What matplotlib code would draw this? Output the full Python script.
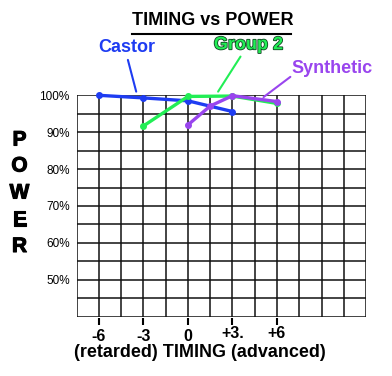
import matplotlib
matplotlib.use("Agg")
import matplotlib.pyplot as plt
from matplotlib.lines import Line2D
from matplotlib.transforms import ScaledTranslation
import matplotlib.patheffects as pe

plt.rcParams['font.family'] = ['Liberation Sans', 'DejaVu Sans']

timing_ticks = [-6, -3, 0, 3, 6]
timing_labels = ['-6', '-3', '0', '+3.', '+6']
power_ticks = [50, 60, 70, 80, 90, 100]
power_labels = ['50%', '60%', '70%', '80%', '90%', '100%']

castor_x = [-6, -3, 0, 3]
castor_y = [100, 99.3, 98.5, 95.6]
group2_x = [-3, 0, 3, 6]
group2_y = [91.7, 99.7, 99.8, 97.8]
synth_x = [0, 1.5, 3, 6]
synth_y = [92, 97.1, 99.9, 98.3]

c_blue = '#1e3cf2'
c_green = '#22ee55'
c_purple = '#9945ee'

fig = plt.figure(figsize=(3.92, 3.76), dpi=100)
ax = fig.add_axes([0.1957, 0.158, 0.738, 0.5885])
ax.set_xlim(-7.5, 12)
ax.set_ylim(40, 100)

# grid
for i in range(14):
    ax.axvline(-7.5 + 1.5 * i, color='#111111', lw=1.1, zorder=1)
for j in range(13):
    ax.axhline(40 + 5 * j, color='#111111', lw=1.1, zorder=1)
for s in ax.spines.values():
    s.set_visible(False)

lw = 2.4
ax.plot(castor_x, castor_y, color=c_blue, lw=lw, marker='o', ms=4, zorder=3, clip_on=False)
ax.plot(group2_x, group2_y, color=c_green, lw=lw, marker='o', ms=4, zorder=3, clip_on=False)
ax.plot(synth_x, synth_y, color=c_purple, lw=lw, marker='o', ms=4, zorder=4, clip_on=False)

ax.set_yticks(power_ticks)
ax.set_yticklabels(power_labels, fontsize=8.5)
ax.tick_params(axis='y', length=0, pad=5)

ax.set_xticks(timing_ticks)
ax.set_xticklabels(timing_labels, fontsize=11.5, fontweight='bold')
ax.tick_params(axis='x', length=0, pad=9)
for lab in ax.get_xticklabels()[3:]:
    lab.set_transform(lab.get_transform() + ScaledTranslation(0, 3 / 100, fig.dpi_scale_trans))
ax.vlines(timing_ticks, -0.008, -0.039, transform=ax.get_xaxis_transform(),
          color='black', lw=1.5, clip_on=False)

ax.text(0.426, -0.1605, '(retarded) TIMING (advanced)', transform=ax.transAxes,
        ha='center', va='center', fontsize=13, fontweight='bold')

# title
ax.text(0.471, 1.34, 'TIMING vs POWER', transform=ax.transAxes,
        ha='center', va='center', fontsize=13, fontweight='bold')
fig.add_artist(Line2D([132 / 392, 291 / 392], [1 - 33.5 / 376, 1 - 33.5 / 376],
                      color='black', lw=1.5))

# POWER vertical
for letter, yp in zip('POWER', [140, 166, 193, 220, 246.5]):
    fig.text(19.5 / 392, 1 - yp / 376, letter, ha='center', va='center',
             fontsize=15, fontweight='bold',
             path_effects=[pe.withStroke(linewidth=0.8, foreground='black')])

# callouts
ax.annotate('', xy=(-3.49, 101), xytext=(-4.05, 109.6),
            arrowprops=dict(arrowstyle='-', color=c_blue, lw=1.5, shrinkA=0, shrinkB=0),
            annotation_clip=False)
ax.text(-4.13, 112.9, 'Castor', color=c_blue, fontsize=13, fontweight='bold',
        ha='center', va='center', clip_on=False)
ax.annotate('', xy=(2.03, 101), xytext=(3.54, 110.5),
            arrowprops=dict(arrowstyle='-', color=c_green, lw=1.5, shrinkA=0, shrinkB=0),
            annotation_clip=False)
ax.text(4.07, 113.7, 'Group 2', color=c_green, fontsize=13, fontweight='bold',
        ha='center', va='center', clip_on=False,
        path_effects=[pe.withStroke(linewidth=1.2, foreground='#114422')])
ax.annotate('', xy=(5.09, 99.5), xytext=(6.9, 105),
            arrowprops=dict(arrowstyle='-', color=c_purple, lw=1.5, shrinkA=0, shrinkB=0),
            annotation_clip=False)
ax.text(9.69, 107.4, 'Synthetic', color=c_purple, fontsize=13, fontweight='bold',
        ha='center', va='center', clip_on=False)

fig.savefig('out.png', dpi=100)
